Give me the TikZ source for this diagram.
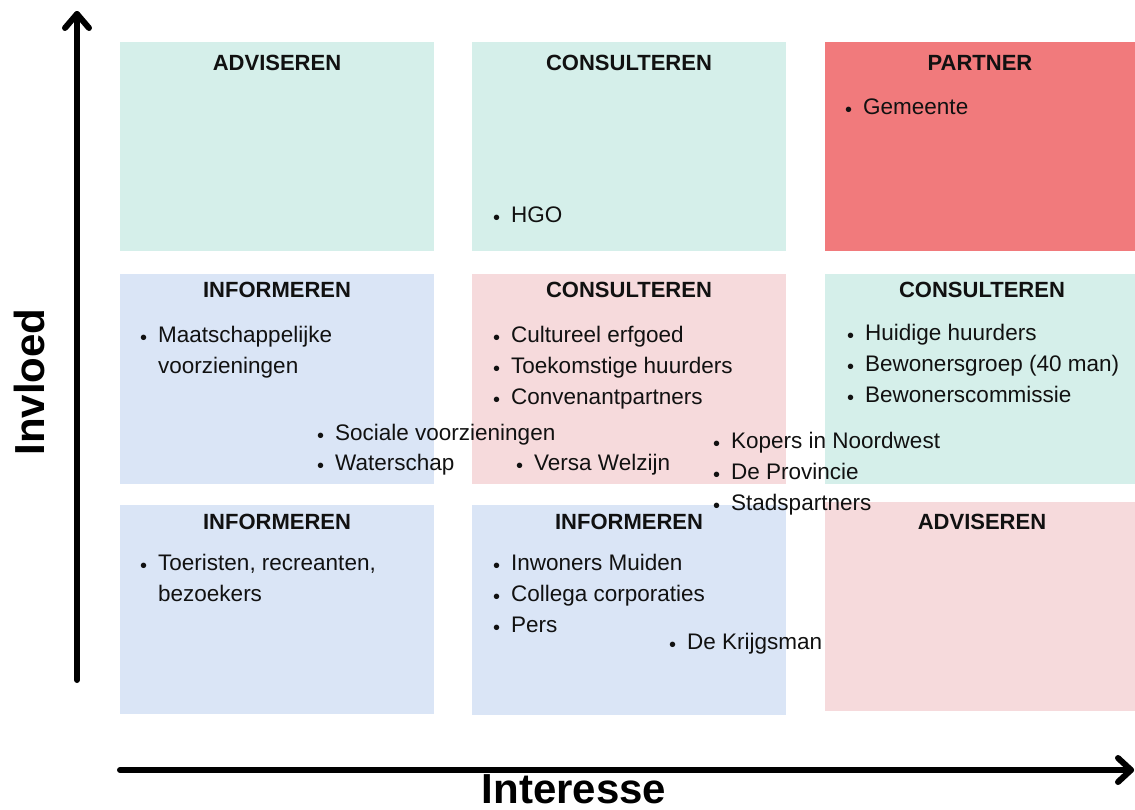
\documentclass[tikz,border=0pt]{standalone}
\usepackage{fontspec}
\setmainfont{Liberation Sans}
\usetikzlibrary{calc}
\definecolor{cgreen}{RGB}{213,239,234}
\definecolor{cblue}{RGB}{218,229,246}
\definecolor{cpink}{RGB}{246,218,220}
\definecolor{cred}{RGB}{241,122,124}
\definecolor{ink}{RGB}{17,17,17}
\newcommand{\blt}{\makebox[0pt][r]{\raisebox{-2pt}{\fontsize{20}{20}\selectfont •}\hspace{11pt}}}
\begin{document}
\begin{tikzpicture}[x=1pt,y=-1pt,
  title/.style={anchor=base, inner sep=0pt, text=ink, font=\fontsize{22}{24}\selectfont\bfseries},
  itm/.style={anchor=base west, inner sep=0pt, text=ink, font=\fontsize{22.5}{24}\selectfont},
  axis/.style={line width=6pt, line cap=round, line join=round},
  axlabel/.style={inner sep=0pt, font=\fontsize{42}{44}\selectfont\bfseries}]
\useasboundingbox (0,0) rectangle (1135,809);
% boxes
\fill[cgreen] (120,42) rectangle (434,251);
\fill[cgreen] (472,42) rectangle (786,251);
\fill[cred]   (825,42) rectangle (1135,251);
\fill[cblue]  (120,274) rectangle (434,484);
\fill[cpink]  (472,274) rectangle (786,484);
\fill[cgreen] (825,274) rectangle (1135,484);
\fill[cblue]  (120,505) rectangle (434,714);
\fill[cblue]  (472,505) rectangle (786,715);
\fill[cpink]  (825,502) rectangle (1135,711);
% titles
\node[title] (t11) at (277,70) {ADVISEREN};
\node[title] (t12) at (629,70) {CONSULTEREN};
\node[title] (t13) at (980,70) {PARTNER};
\node[title] (t21) at (277,297) {INFORMEREN};
\node[title] (t22) at (629,297) {CONSULTEREN};
\node[title] (t23) at (982,297) {CONSULTEREN};
\node[title] (t31) at (277,529) {INFORMEREN};
\node[title] (t32) at (629,529) {INFORMEREN};
\node[title] (t33) at (982,529) {ADVISEREN};
% items
\node[itm] (gem) at (863,114) {\blt Gemeente};
\node[itm] (hgo) at (511,222) {\blt HGO};
\node[itm] (maat) at (158,342) {\blt Maatschappelijke};
\node[itm] (maat2) at (158,373) {voorzieningen};
\node[itm] (cult) at (511,342) {\blt Cultureel erfgoed};
\node[itm] (toek) at (511,373) {\blt Toekomstige huurders};
\node[itm] (conv) at (511,404) {\blt Convenantpartners};
\node[itm] (huid) at (865,340) {\blt Huidige huurders};
\node[itm] (bewg) at (865,371) {\blt Bewonersgroep (40 man)};
\node[itm] (bewc) at (865,402) {\blt Bewonerscommissie};
\node[itm] (soc) at (335,440) {\blt Sociale voorzieningen};
\node[itm] (wat) at (335,470) {\blt Waterschap};
\node[itm] (versa) at (534,470) {\blt Versa Welzijn};
\node[itm] (kop) at (731,448) {\blt Kopers in Noordwest};
\node[itm] (prov) at (731,479) {\blt De Provincie};
\node[itm] (stad) at (731,510) {\blt Stadspartners};
\node[itm] (toer) at (158,570) {\blt Toeristen, recreanten,};
\node[itm] (toer2) at (158,601) {bezoekers};
\node[itm] (inw) at (511,570) {\blt Inwoners Muiden};
\node[itm] (coll) at (511,601) {\blt Collega corporaties};
\node[itm] (pers) at (511,632) {\blt Pers};
\node[itm] (krijg) at (687,649) {\blt De Krijgsman};
% axes
\coordinate (v0) at (77,680);
\coordinate (v1) at (77,14);
\coordinate (h0) at (120,770);
\coordinate (h1) at (1131,770);
\draw[axis] (v0) -- (v1);
\draw[axis] ($(v1)+(-12,14)$) -- (v1) -- ($(v1)+(12,14)$);
\draw[axis] (h0) -- (h1);
\draw[axis] ($(h1)+(-13,-12)$) -- (h1) -- ($(h1)+(-13,12)$);
\node[axlabel, rotate=90] (invl) at (29,382) {Invloed};
\node[axlabel] (inter) at (574,789) {Interesse};
\end{tikzpicture}
\end{document}
